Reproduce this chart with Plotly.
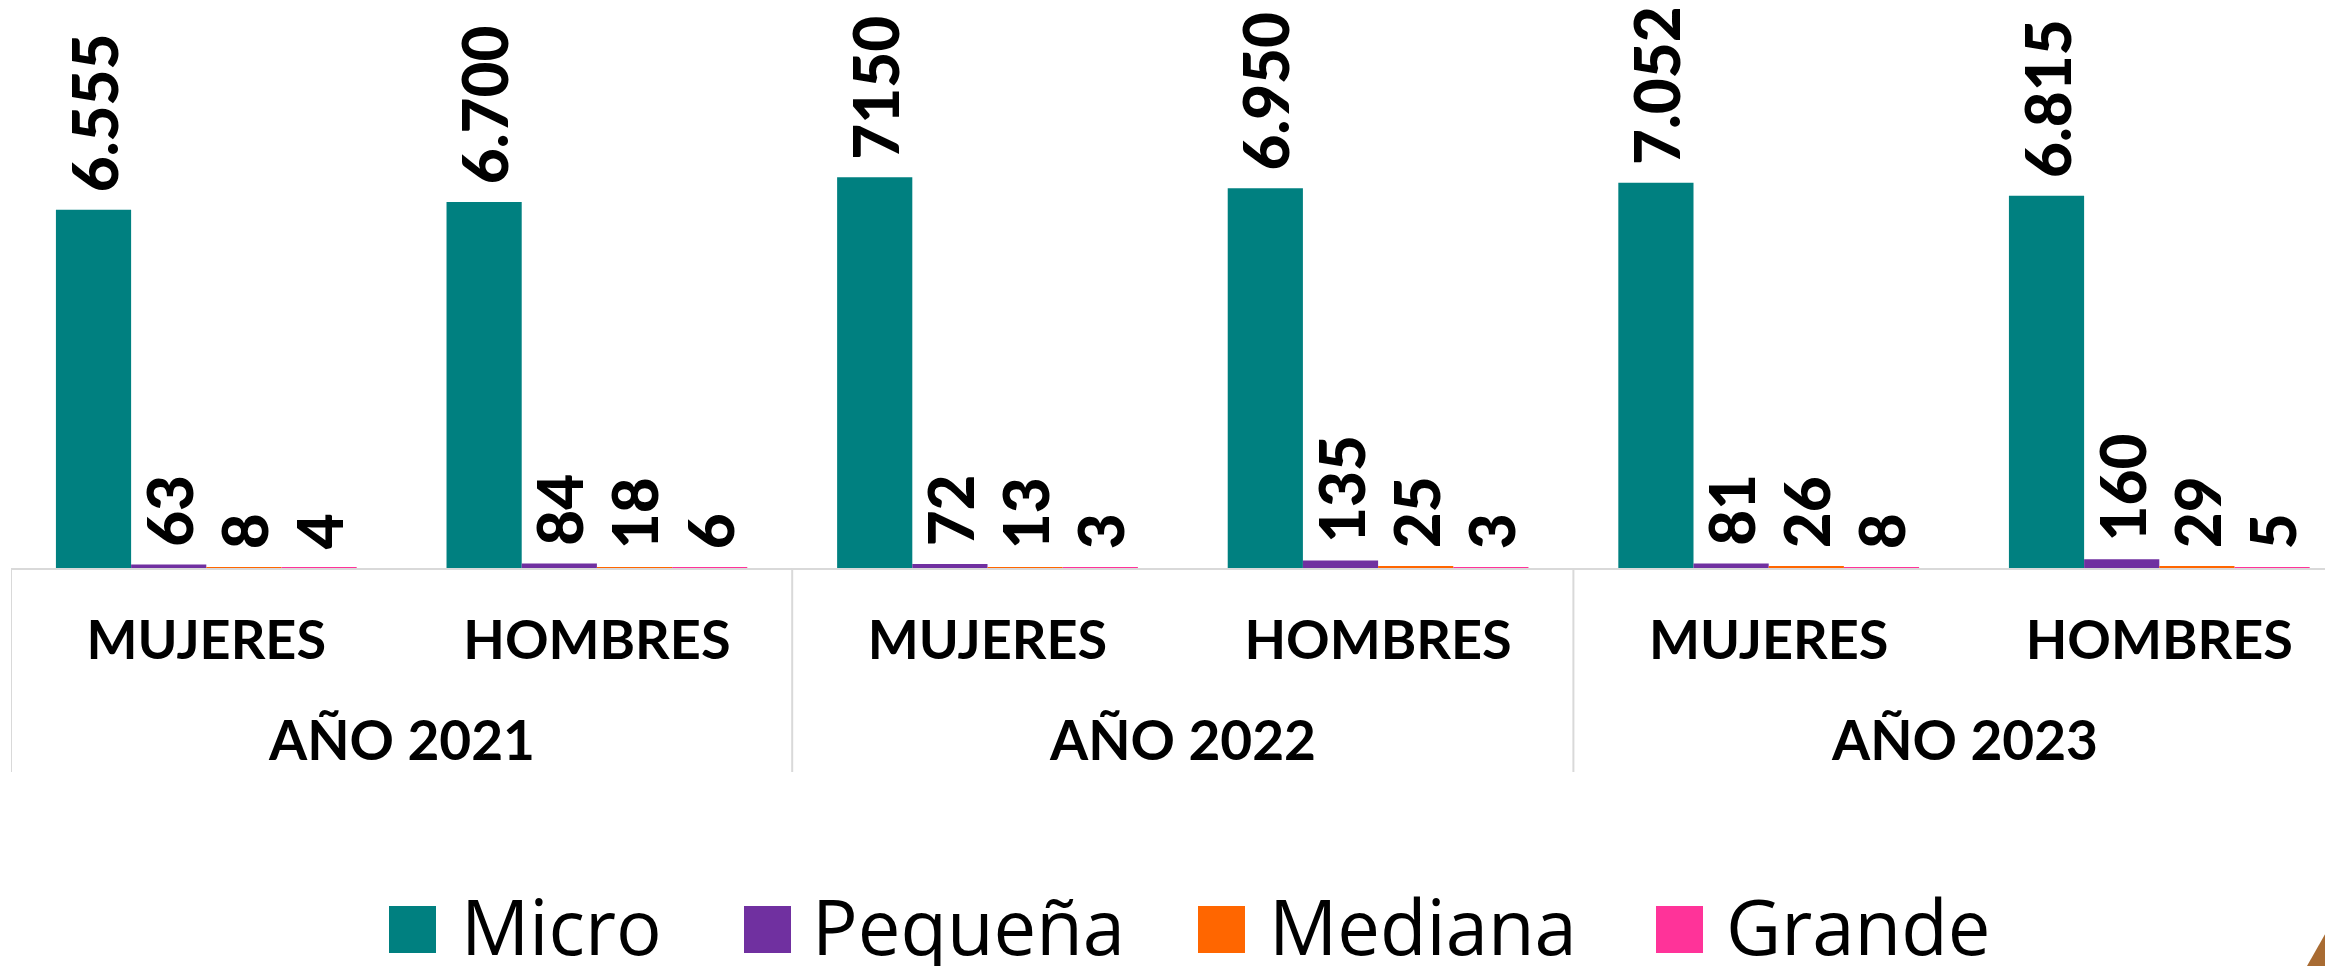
import plotly.graph_objects as go

# ---------------- data ----------------
years = ["AÑO 2021", "AÑO 2022", "AÑO 2023"]
sexes = ["MUJERES", "HOMBRES", "MUJERES", "HOMBRES", "MUJERES", "HOMBRES"]
series_names = ["Micro", "Pequeña", "Mediana", "Grande"]
series_colors = ["#008080", "#7030A0", "#FF6600", "#FF3399"]

micro = [6555, 6700, 7150, 6950, 7052, 6815]
micro_labels = ["6.555", "6.700", "7150", "6.950", "7.052", "6.815"]
pequena = [63, 84, 72, 135, 81, 160]
mediana = [8, 18, 13, 25, 26, 29]
grande = [4, 6, 3, 3, 8, 5]

values = [micro, pequena, mediana, grande]
labels = [micro_labels,
          [str(v) for v in pequena],
          [str(v) for v in mediana],
          [str(v) for v in grande]]

# ---------------- geometry (styles) ----------------
SCREEN_W, SCREEN_H = 2333, 966
OFF = 8                      # default body margin of the html page
W, H = SCREEN_W - OFF, SCREEN_H - OFF
PLOT_LEFT = 11 - OFF         # screen px of left plot edge
BASE_Y = 568 - OFF           # screen px of the baseline
CAT_W = 390.6
Y_MAX = 10250

x_idx = list(range(len(sexes)))
x_hi = -0.5 + (W - PLOT_LEFT) / CAT_W


def px_x(sx):
    return (sx - OFF - PLOT_LEFT) / (W - PLOT_LEFT)


def px_y(sy):
    return (BASE_Y - (sy - OFF)) / BASE_Y


fig = go.Figure()
for name, col, vals, labs in zip(series_names, series_colors, values, labels):
    fig.add_trace(go.Bar(
        x=x_idx, y=vals, name=name, marker=dict(color=col, line=dict(width=0)),
        text=labs, texttemplate="\u00a0%{text}", textposition="outside", textangle=-90,
        textfont=dict(family="Lato", size=62, color="black", weight=900),
        constraintext="none", cliponaxis=False, showlegend=False,
    ))

shapes = []
annotations = []

# year separators (multi-level category axis look)
n_sub = len(sexes) // len(years)
for k in range(len(years) + 1):
    xs = -0.5 + k * n_sub
    shapes.append(dict(type="line", xref="x", yref="paper", x0=xs, x1=xs,
                       y0=0, y1=px_y(772), line=dict(color="#D9D9D9", width=2)))

# year labels
for k, yr in enumerate(years):
    annotations.append(dict(x=k * n_sub + (n_sub - 1) / 2, y=px_y(739), xref="x", yref="paper",
                            text=yr, showarrow=False, xanchor="center", yanchor="middle",
                            font=dict(family="Lato", size=55, color="black", weight="bold")))

# manual legend
leg_sq_x = [389, 744, 1198, 1656]
leg_tx_x = [459, 810, 1267, 1724]
for name, col, sx, tx in zip(series_names, series_colors, leg_sq_x, leg_tx_x):
    shapes.append(dict(type="rect", xref="paper", yref="paper",
                       x0=px_x(sx), x1=px_x(sx + 47), y0=px_y(906), y1=px_y(953),
                       fillcolor=col, line=dict(width=0)))
    annotations.append(dict(x=px_x(tx), y=px_y(925), xref="paper", yref="paper",
                            text=name, showarrow=False, xanchor="left", yanchor="middle",
                            font=dict(family="Open Sans", size=76, color="black")))

# decorative corner triangle
shapes.append(dict(type="path", xref="paper", yref="paper",
                   path=f"M {px_x(2307)} {px_y(966)} L {px_x(2333)} {px_y(920)} L {px_x(2333)} {px_y(966)} Z",
                   fillcolor="#A86B32", line=dict(width=0)))

fig.update_layout(
    width=W, height=H,
    margin=dict(l=PLOT_LEFT, r=0, t=0, b=H - BASE_Y, pad=0),
    paper_bgcolor="white", plot_bgcolor="white",
    barmode="group", bargap=0.23, bargroupgap=0,
    shapes=shapes, annotations=annotations,
    xaxis=dict(range=[-0.5, x_hi], tickmode="array", tickvals=x_idx, ticktext=sexes,
               showline=True, linecolor="#D9D9D9", linewidth=2, ticks="",
               showgrid=False, zeroline=False, ticklabelstandoff=24,
               tickfont=dict(family="Lato", size=54, color="black", weight="bold")),
    yaxis=dict(range=[0, Y_MAX], visible=False, showgrid=False, zeroline=False),
)

fig.write_html("out.html")
